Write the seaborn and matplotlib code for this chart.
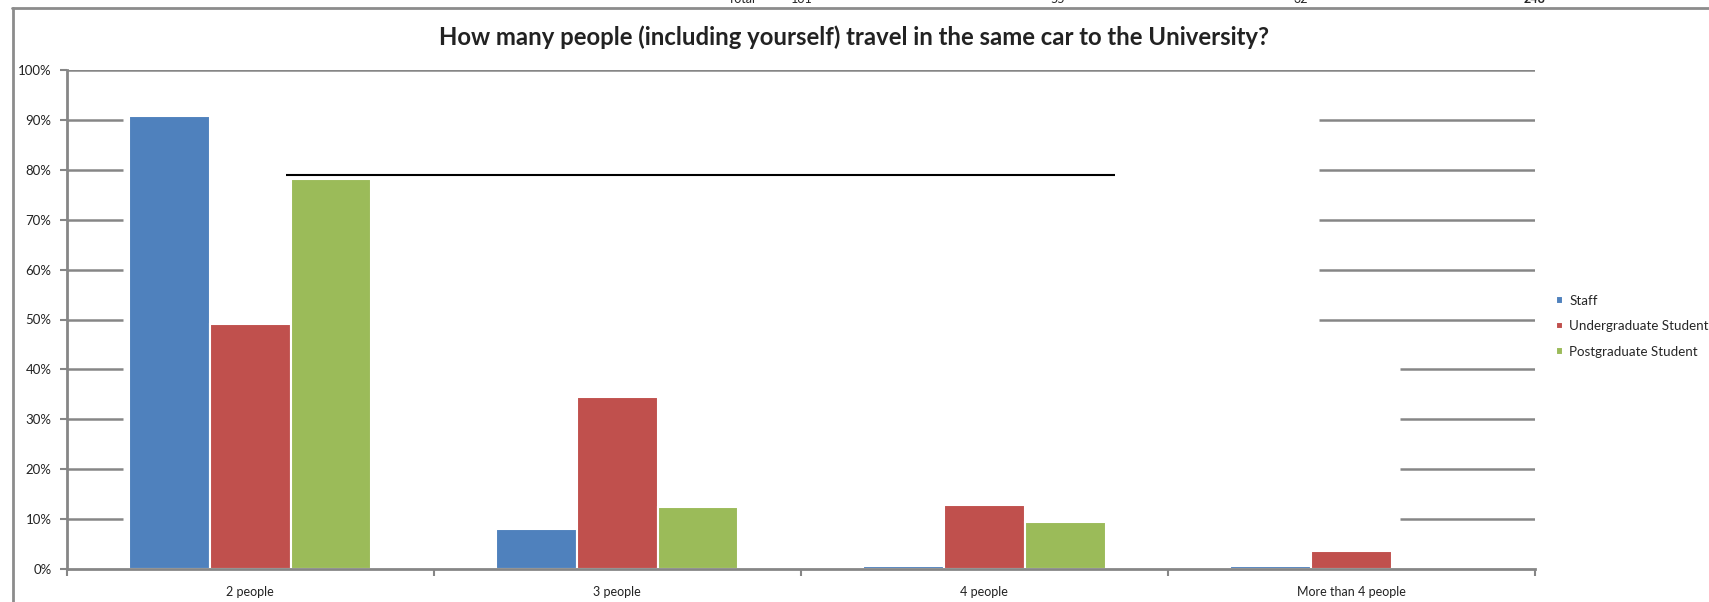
import matplotlib
matplotlib.use("Agg")
import matplotlib.pyplot as plt
import seaborn as sns
import pandas as pd
from matplotlib.lines import Line2D
from matplotlib.ticker import PercentFormatter, FixedLocator

# ---------------- data ----------------
categories = ["2 people", "3 people", "4 people", "More than 4 people"]
groups = ["Staff", "Undergraduate Student", "Postgraduate Student"]
staff_counts = [146, 13, 1, 1]
undergrad_counts = [27, 19, 7, 2]
postgrad_counts = [25, 4, 3, 0]
group_totals = [161, 55, 32]
grand_total = 248
y_ticks = [0, 10, 20, 30, 40, 50, 60, 70, 80, 90, 100]
title = "How many people (including yourself) travel in the same car to the University?"

colors = ["#4F81BD", "#C0504D", "#9BBB59"]
grid_color = "#868686"

rows = []
for g, counts, tot in zip(groups, [staff_counts, undergrad_counts, postgrad_counts], group_totals):
    for c, n in zip(categories, counts):
        rows.append({"category": c, "group": g, "pct": 100.0 * n / tot})
df = pd.DataFrame(rows)

# ---------------- style ----------------
sns.set_theme(style="white")
plt.rcParams["font.family"] = ["Lato", "DejaVu Sans"]

W, H = 1709, 602
fig = plt.figure(figsize=(W / 100, H / 100), dpi=100)
x0, x1 = 66.7, 1535
y0, y100 = 569, 70
ax = fig.add_axes([x0 / W, (H - y0) / H, (x1 - x0) / W, (y0 - y100) / H])

sns.barplot(data=df, x="category", y="pct", hue="group", order=categories,
            hue_order=groups, palette=colors, width=0.66, edgecolor="white",
            linewidth=1.5, saturation=1, errorbar=None, ax=ax)

ax.set_xlim(-0.5, 3.5)
ax.set_ylim(0, 100)

# gridlines (partially hidden in the reference)
ax.hlines(100, -0.5, 3.5, color=grid_color, lw=1.8, zorder=0.5)
for y in y_ticks[1:-1]:
    ax.hlines(y, -0.5, -0.347, color=grid_color, lw=1.8, zorder=0.5)
    start = 2.912 if y >= 50 else 3.133
    ax.hlines(y, start, 3.5, color=grid_color, lw=1.8, zorder=0.5)

# stray black border line seen in the reference
ax.hlines(79, 0.097, 2.357, color="black", lw=1.5, zorder=3)

for s in ["top", "right"]:
    ax.spines[s].set_visible(False)
for s in ["left", "bottom"]:
    ax.spines[s].set_color(grid_color)
    ax.spines[s].set_linewidth(2)

ax.set_yticks(y_ticks)
ax.yaxis.set_major_formatter(PercentFormatter(decimals=0))
ax.tick_params(axis="y", left=True, length=5, width=1.5, color=grid_color,
               pad=6, labelsize=9.5, labelcolor="#222222", direction="out")
ax.xaxis.set_minor_locator(FixedLocator([-0.5, 0.5, 1.5, 2.5, 3.5]))
ax.tick_params(axis="x", which="major", bottom=False, length=0, pad=12,
               labelsize=9, labelcolor="#222222")
ax.tick_params(axis="x", which="minor", bottom=True, length=5, width=1.5,
               color=grid_color, direction="out")
ax.set_xlabel("")
ax.set_ylabel("")

handles, labels = ax.get_legend_handles_labels()
ax.legend(handles, labels, loc="upper left",
          bbox_to_anchor=(1556 / W, 1 - 295 / H), bbox_transform=fig.transFigure,
          frameon=False, handlelength=0.5, handleheight=0.5, handletextpad=0.5,
          labelspacing=1.0, fontsize=9.6, borderpad=0, borderaxespad=0)

fig.text(854 / W, 1 - 37 / H, title, ha="center", va="center",
         fontsize=17.2, fontweight="bold", color="#222222")

# clipped header row from the spreadsheet above the chart
hdr_y = 1 + 1 / H
fig.text(742 / W, hdr_y, "Total", ha="center", va="center", fontsize=9)
for xpx, n in zip([802, 1058, 1301], group_totals):
    fig.text(xpx / W, hdr_y, str(n), ha="center", va="center", fontsize=9)
fig.text(1535 / W, hdr_y, str(grand_total), ha="center", va="center",
         fontsize=9, fontweight="bold")

# chart frame
fig.add_artist(Line2D([12.5 / W, 12.5 / W], [0, 1 - 8 / H], transform=fig.transFigure,
                      color="#8c8c8c", lw=2))
fig.add_artist(Line2D([12 / W, 1], [1 - 8 / H, 1 - 8 / H], transform=fig.transFigure,
                      color="#8c8c8c", lw=2))

fig.savefig("out.png", dpi=100)
